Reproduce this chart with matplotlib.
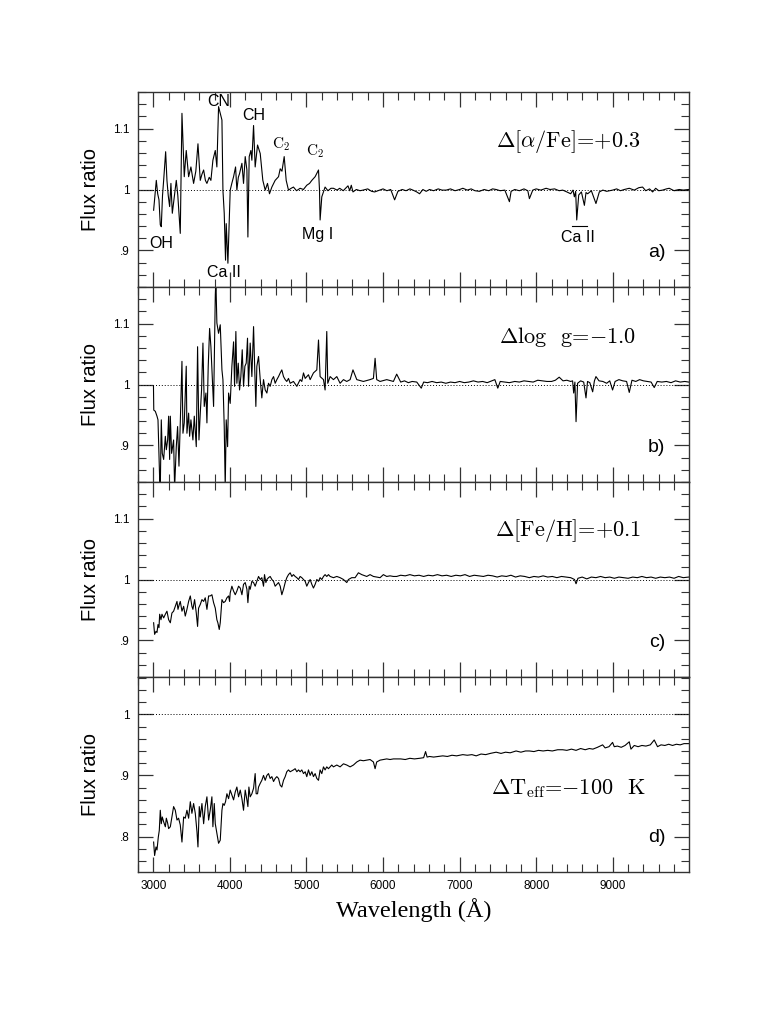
import numpy as np
import matplotlib
matplotlib.use("Agg")
import matplotlib.pyplot as plt
from matplotlib.ticker import FixedLocator, MultipleLocator, FuncFormatter

plt.rcParams['mathtext.fontset'] = 'cm'
plt.rcParams['font.family'] = ['Liberation Sans', 'DejaVu Sans']

# ---- panel a) d[alpha/Fe]=+0.3 ----
wa = [3004, 3039, 3057, 3074, 3091, 3104, 3120, 3135, 3161, 3178, 3195, 3213, 3230, 3248, 3274, 3300,
      3320, 3352, 3374, 3404, 3430, 3461, 3491, 3526, 3555, 3583, 3613, 3635, 3657, 3680, 3700, 3730,
      3752, 3778, 3809, 3830, 3852, 3874, 3896, 3909, 3926, 3943, 3952, 3974, 3987, 4004, 4025, 4048,
      4074, 4091, 4110, 4126, 4157, 4178, 4200, 4222, 4235, 4252, 4274, 4287, 4309, 4330, 4361, 4396,
      4430, 4461, 4491, 4517, 4548, 4591, 4635, 4657, 4680, 4709, 4735, 4765, 4800, 4830, 4870, 4917,
      4960, 5004, 5040, 5070, 5113, 5157, 5170, 5178, 5200, 5243, 5280, 5320, 5352,
      5400, 5433, 5480, 5520, 5542, 5565, 5585, 5607, 5651, 5700, 5738, 5800, 5850, 5890, 5955, 6000,
      6050, 6100, 6151, 6194, 6250, 6300, 6350, 6390, 6440, 6477, 6520, 6563, 6607, 6660, 6720, 6770,
      6825, 6880, 6940, 7000, 7042, 7100, 7150, 7200, 7259, 7320, 7380, 7430, 7477, 7530, 7590, 7650,
      7672, 7720, 7780, 7840, 7890, 7911, 7955, 8000, 8060, 8129, 8180, 8240, 8300, 8346, 8400, 8450,
      8480, 8498, 8515, 8529, 8555, 8590, 8629, 8650, 8672, 8720, 8780, 8824, 8870, 8920, 8998, 9050,
      9100, 9150, 9215, 9280, 9340, 9389, 9430, 9480, 9520, 9560, 9600, 9650, 9700, 9737, 9800, 9867,
      9920, 9990]
fa = [0.966, 1.015, 0.993, 0.983, 0.942, 0.939, 0.990, 1.015, 1.062, 1.015, 0.990, 0.972, 1.010, 0.961, 0.988, 1.015,
      0.990, 0.928, 1.125, 1.021, 1.064, 1.021, 1.037, 1.010, 1.030, 1.075, 1.015, 1.025, 1.032, 1.015, 1.010, 1.020,
      1.015, 1.048, 1.064, 1.037, 1.136, 1.125, 1.114, 0.999, 0.961, 0.884, 0.944, 0.879, 0.933, 0.999, 1.010, 1.021,
      1.037, 0.999, 1.020, 1.026, 1.043, 1.010, 1.054, 1.032, 0.922, 1.054, 1.064, 1.048, 1.105, 1.037, 1.073, 1.059,
      1.015, 0.999, 1.010, 0.993, 1.004, 1.015, 1.021, 1.034, 1.030, 1.054, 1.015, 0.999, 1.002, 1.004, 0.998, 1.002,
      1.000, 1.007, 1.010, 1.015, 1.021, 1.032, 0.999, 0.950, 0.988, 1.004, 0.998, 1.002, 1.002,
      0.999, 1.002, 0.998, 1.003, 1.006, 0.998, 1.007, 0.996, 1.000, 0.998, 0.999, 1.001, 0.997, 0.996, 0.999, 1.001,
      0.998, 1.000, 0.983, 0.997, 1.000, 0.998, 1.001, 0.999, 0.996, 0.993, 1.000, 0.997, 1.000, 0.998, 1.001, 0.999,
      0.999, 1.001, 0.998, 1.000, 1.002, 0.999, 1.001, 0.998, 0.997, 1.000, 0.998, 1.001, 1.000, 0.998, 0.999, 0.980,
      0.997, 1.000, 0.998, 1.001, 0.998, 0.985, 0.999, 1.001, 0.999, 1.002, 1.000, 1.001, 0.998, 0.999, 0.996, 0.993,
      0.999, 0.988, 0.997, 0.950, 0.991, 0.996, 0.974, 0.995, 0.993, 0.998, 0.977, 0.996, 0.999, 0.997, 0.999, 1.001,
      0.998, 1.000, 1.002, 0.999, 1.003, 1.004, 0.998, 1.001, 0.996, 1.002, 0.998, 0.999, 1.001, 1.002, 0.998, 1.000,
      0.999, 1.000]

# ---- panel b) dlog g=-1.0 ----
wb = [3002, 3006, 3026, 3048, 3061, 3083, 3091, 3104, 3117, 3135, 3157, 3170, 3187, 3200, 3213, 3222,
      3239, 3265, 3278, 3300, 3317, 3335, 3352, 3374, 3387, 3404, 3430, 3439, 3461, 3474, 3491, 3517,
      3535, 3561, 3578, 3596, 3613, 3630, 3648, 3665, 3687, 3700, 3717, 3735, 3752, 3770, 3787, 3809,
      3817, 3830, 3852, 3874, 3896, 3909, 3926, 3939, 3952, 3970, 3983, 4004, 4026, 4048, 4061, 4078,
      4091, 4109, 4126, 4143, 4161, 4178, 4196, 4213, 4230, 4243, 4265, 4287, 4309, 4322, 4339, 4352,
      4374, 4396, 4417, 4439, 4461, 4483, 4504, 4526, 4548, 4570, 4591, 4613, 4635, 4657, 4678, 4700,
      4722, 4743, 4765, 4787, 4830, 4874, 4917, 4939, 4961, 4983, 5004, 5026, 5048, 5091, 5135, 5157,
      5178, 5222, 5243, 5265, 5278, 5309, 5352, 5396, 5439, 5483, 5526, 5570, 5607, 5657, 5743, 5830,
      5874, 5896, 5917, 5961, 6048, 6135, 6178,
      6230, 6280, 6330, 6380, 6440, 6499, 6530, 6580, 6640, 6700, 6760, 6820, 6880, 6940, 7000, 7060,
      7120, 7180, 7240, 7300, 7360, 7420, 7460, 7498, 7530, 7590, 7650, 7720, 7780, 7840, 7900, 7960,
      8020, 8080, 8140, 8200, 8250, 8300, 8350, 8400, 8450, 8475, 8489, 8505, 8520, 8540, 8580, 8620,
      8650, 8670, 8700, 8737, 8760, 8780, 8820, 8870, 8920, 8960, 8997, 9030, 9080, 9130, 9180, 9215,
      9250, 9300, 9350, 9400, 9450, 9500, 9541, 9580, 9640, 9700, 9760, 9820, 9880, 9940, 9990]
fb = [0.997, 0.958, 0.956, 0.948, 0.942, 0.844, 0.830, 0.942, 0.887, 0.877, 0.915, 0.893, 0.909, 0.948, 0.877, 0.948,
      0.887, 0.909, 0.830, 0.898, 0.931, 0.866, 0.937, 1.038, 0.920, 0.937, 1.030, 0.920, 0.953, 0.915, 0.942, 0.909,
      0.948, 0.898, 1.062, 0.909, 0.953, 0.991, 1.068, 0.964, 0.986, 0.937, 1.030, 1.092, 1.062, 1.013, 0.964, 1.144,
      1.170, 1.101, 1.084, 1.098, 1.024, 1.008, 0.931, 0.830, 0.942, 0.898, 0.986, 0.969, 1.030, 1.070, 0.997, 1.087,
      1.002, 1.035, 0.991, 1.013, 1.057, 0.997, 1.030, 1.035, 1.076, 0.997, 1.068, 1.013, 1.095, 1.035, 0.964, 1.030,
      1.046, 1.008, 0.978, 1.008, 0.991, 0.986, 1.002, 0.997, 1.008, 1.013, 1.002, 1.008, 1.013, 1.019, 1.024, 1.013,
      1.008, 1.005, 1.010, 1.002, 1.005, 0.997, 1.008, 1.005, 1.019, 1.010, 1.013, 1.016, 1.008, 1.019, 1.024, 1.073,
      1.013, 1.008, 0.991, 1.087, 1.002, 1.013, 1.008, 1.013, 1.002, 1.008, 1.005, 1.008, 1.024, 1.008, 1.005, 1.008,
      1.010, 1.043, 1.008, 1.005, 1.008, 1.005, 1.017,
      1.004, 1.006, 1.003, 1.005, 1.004, 0.994, 1.004, 1.003, 1.005, 1.003, 1.004, 1.002, 1.004, 1.003, 1.005, 1.003,
      1.004, 1.006, 1.004, 1.005, 1.003, 1.006, 1.008, 0.994, 1.005, 1.004, 1.003, 1.005, 1.004, 1.006, 1.005, 1.004,
      1.007, 1.006, 1.005, 1.005, 1.007, 1.012, 1.006, 1.007, 1.005, 1.006, 0.986, 1.004, 0.939, 1.002, 1.006, 1.004,
      0.978, 1.005, 1.003, 0.988, 1.006, 1.013, 1.006, 1.005, 1.002, 1.006, 0.991, 1.005, 1.008, 1.006, 1.005, 0.987,
      1.007, 1.005, 1.008, 1.006, 1.005, 1.004, 0.995, 1.005, 1.004, 1.005, 1.003, 1.006, 1.004, 1.005, 1.004]

# ---- panel c) d[Fe/H]=+0.1 ----
wc = [3004, 3017, 3035, 3048, 3061, 3074, 3083, 3100, 3113, 3135, 3157, 3178, 3200, 3222, 3243, 3265,
      3287, 3309, 3322, 3339, 3352, 3374, 3396, 3417, 3439, 3461, 3483, 3504, 3517, 3539, 3561, 3578,
      3591, 3613, 3635, 3657, 3678, 3700, 3722, 3743, 3765, 3787, 3809, 3830, 3843, 3861, 3874, 3887,
      3896, 3917, 3939, 3961, 3983, 3996, 4004, 4026, 4048, 4070, 4091, 4113, 4135, 4157, 4178, 4200,
      4222, 4235, 4252, 4265, 4287, 4309, 4330, 4352, 4374, 4396, 4417, 4439, 4452, 4470, 4483, 4504,
      4526, 4548, 4570, 4591, 4613, 4635, 4657, 4678, 4700, 4722, 4743, 4765, 4787, 4809, 4830, 4852,
      4874, 4896, 4917, 4939, 4961, 4983, 5004, 5026, 5048, 5070, 5091, 5113, 5135, 5157, 5178, 5200,
      5222, 5243, 5265, 5287, 5309, 5352, 5396, 5439, 5483, 5526, 5548, 5591, 5635, 5678, 5722, 5787,
      5830, 5874, 5917, 5961, 6004, 6048, 6091, 6135, 6178,
      6230, 6290, 6350, 6410, 6470, 6530, 6590, 6650, 6710, 6770, 6830, 6890, 6950, 7010, 7070, 7130,
      7190, 7250, 7310, 7370, 7430, 7490, 7550, 7610, 7670, 7730, 7790, 7850, 7910, 7970, 8030, 8090,
      8150, 8210, 8270, 8330, 8390, 8450, 8500, 8520, 8545, 8600, 8660, 8720, 8780, 8840, 8900, 8960,
      9020, 9080, 9140, 9200, 9260, 9320, 9380, 9440, 9500, 9560, 9620, 9680, 9740, 9800, 9860, 9920,
      9990]
fc = [0.929, 0.910, 0.915, 0.913, 0.926, 0.921, 0.943, 0.934, 0.943, 0.937, 0.943, 0.948, 0.934, 0.929, 0.945, 0.948,
      0.956, 0.964, 0.951, 0.959, 0.964, 0.948, 0.956, 0.940, 0.951, 0.964, 0.973, 0.956, 0.951, 0.967, 0.945, 0.923,
      0.953, 0.959, 0.967, 0.964, 0.970, 0.951, 0.973, 0.973, 0.975, 0.962, 0.953, 0.934, 0.929, 0.918, 0.929, 0.951,
      0.967, 0.962, 0.964, 0.970, 0.973, 0.964, 0.978, 0.989, 0.981, 0.975, 0.981, 0.989, 0.986, 0.975, 0.992, 0.995,
      0.984, 0.962, 0.989, 0.984, 0.997, 0.995, 0.989, 0.997, 1.005, 1.000, 1.003, 0.989, 1.008, 0.995, 1.000, 1.003,
      1.005, 1.000, 0.997, 0.989, 0.992, 0.995, 0.989, 0.975, 0.984, 0.995, 1.003, 1.008, 1.011, 1.005, 1.008, 1.005,
      1.003, 1.000, 1.005, 1.003, 1.000, 0.997, 0.989, 0.995, 1.000, 0.992, 0.986, 0.992, 1.000, 0.997, 1.003, 1.000,
      1.005, 1.008, 1.005, 1.008, 1.005, 1.003, 1.005, 1.003, 1.000, 0.995, 1.000, 1.003, 1.003, 1.011, 1.008, 1.005,
      1.008, 1.005, 1.004, 1.003, 1.008, 1.005, 1.006, 1.005, 1.005,
      1.007, 1.006, 1.008, 1.006, 1.007, 1.005, 1.007, 1.006, 1.008, 1.006, 1.007, 1.005, 1.007, 1.006, 1.008, 1.005,
      1.007, 1.006, 1.005, 1.007, 1.006, 1.004, 1.006, 1.005, 1.007, 1.004, 1.006, 1.005, 1.003, 1.005, 1.004, 1.006,
      1.004, 1.005, 1.003, 1.005, 1.004, 1.003, 1.000, 0.993, 1.002, 1.004, 1.001, 1.004, 1.003, 1.005, 1.003, 1.004,
      1.002, 1.004, 1.003, 1.002, 1.004, 1.003, 1.005, 1.003, 1.004, 1.002, 1.004, 1.003, 1.004, 1.002, 1.005, 1.003,
      1.004]

# ---- panel d) dTeff=-100 K ----
wd = [3004, 3017, 3035, 3048, 3065, 3078, 3091, 3104, 3117, 3135, 3157, 3170, 3187, 3200, 3222, 3243,
      3265, 3287, 3309, 3330, 3352, 3374, 3396, 3417, 3439, 3461, 3483, 3504, 3526, 3548, 3570, 3583,
      3600, 3613, 3635, 3657, 3678, 3700, 3722, 3743, 3765, 3778, 3796, 3809, 3830, 3852, 3874, 3896,
      3909, 3926, 3943, 3961, 3983, 4004, 4026, 4048, 4070, 4091, 4113, 4135, 4157, 4178, 4200, 4222,
      4235, 4248, 4265, 4287, 4309, 4330, 4343, 4361, 4374, 4396, 4417, 4439, 4461, 4483, 4504, 4526,
      4548, 4570, 4591, 4613, 4635, 4657, 4678, 4700, 4722, 4743, 4765, 4787, 4830, 4852, 4874, 4896,
      4917, 4939, 4961, 4983, 5004, 5026, 5048, 5070, 5091, 5113, 5135, 5157, 5178, 5200, 5222, 5243,
      5265, 5287, 5309, 5330, 5352, 5396, 5439, 5483, 5526, 5570, 5613, 5657, 5700, 5743, 5787, 5830,
      5874, 5896, 5917, 5961, 6004, 6048, 6091, 6135, 6178,
      6230, 6290, 6350, 6410, 6477, 6530, 6555, 6575, 6607, 6660, 6720, 6780, 6840, 6900, 6960, 7041,
      7100, 7160, 7216, 7280, 7340, 7400, 7477, 7540, 7600, 7660, 7737, 7800, 7860, 7911, 7970, 8030,
      8090, 8150, 8210, 8280, 8345, 8400, 8460, 8520, 8580, 8640, 8693, 8740, 8800, 8867, 8900, 8950,
      8997, 9019, 9060, 9110, 9160, 9215, 9237, 9280, 9330, 9380, 9432, 9490, 9541, 9584, 9630, 9680,
      9730, 9780, 9830, 9880, 9930, 9990]
fd = [0.791, 0.769, 0.783, 0.778, 0.799, 0.810, 0.843, 0.821, 0.832, 0.824, 0.816, 0.830, 0.822, 0.813, 0.816, 0.832,
      0.849, 0.843, 0.827, 0.830, 0.819, 0.791, 0.832, 0.830, 0.843, 0.830, 0.857, 0.838, 0.854, 0.838, 0.808, 0.783,
      0.849, 0.832, 0.854, 0.821, 0.849, 0.865, 0.827, 0.843, 0.865, 0.816, 0.854, 0.821, 0.805, 0.789, 0.794, 0.843,
      0.854, 0.851, 0.857, 0.870, 0.862, 0.876, 0.868, 0.860, 0.873, 0.881, 0.865, 0.876, 0.862, 0.843, 0.876, 0.860,
      0.849, 0.881, 0.865, 0.870, 0.879, 0.903, 0.870, 0.870, 0.881, 0.887, 0.892, 0.900, 0.892, 0.900, 0.903, 0.895,
      0.898, 0.890, 0.895, 0.898, 0.895, 0.884, 0.881, 0.892, 0.898, 0.906, 0.909, 0.906, 0.909, 0.911, 0.906, 0.909,
      0.906, 0.909, 0.903, 0.906, 0.898, 0.909, 0.900, 0.906, 0.898, 0.903, 0.895, 0.892, 0.909, 0.903, 0.914, 0.909,
      0.914, 0.911, 0.914, 0.917, 0.914, 0.917, 0.914, 0.919, 0.917, 0.914, 0.917, 0.922, 0.925, 0.924, 0.925, 0.926,
      0.922, 0.911, 0.922, 0.925, 0.926, 0.927, 0.926, 0.927, 0.927,
      0.927, 0.926, 0.928, 0.927, 0.928, 0.929, 0.939, 0.930, 0.931, 0.930, 0.931, 0.932, 0.931, 0.933, 0.932, 0.934,
      0.933, 0.934, 0.932, 0.935, 0.934, 0.936, 0.938, 0.936, 0.938, 0.937, 0.940, 0.938, 0.940, 0.940, 0.939, 0.941,
      0.940, 0.941, 0.940, 0.942, 0.942, 0.941, 0.943, 0.941, 0.944, 0.942, 0.944, 0.943, 0.946, 0.950, 0.945, 0.947,
      0.954, 0.947, 0.948, 0.946, 0.949, 0.955, 0.943, 0.949, 0.947, 0.949, 0.948, 0.950, 0.958, 0.947, 0.950, 0.949,
      0.951, 0.949, 0.951, 0.950, 0.952, 0.952]

waves = [wa, wb, wc, wd]
fluxes = [fa, fb, fc, fd]
letters = ["a)", "b)", "c)", "d)"]
deltas = [r"$\Delta[\alpha/$Fe$]$=+0.3",
          r"$\Delta$log  g=$-$1.0",
          r"$\Delta[$Fe/H$]$=+0.1",
          r"$\Delta$T$_{\rm eff}$=$-$100  K"]
delta_y = [0.745, 0.745, 0.75, 0.43]
ylims = [(0.84, 1.16), (0.84, 1.16), (0.84, 1.16), (0.742, 1.061)]
yticks = [[0.9, 1.0, 1.1], [0.9, 1.0, 1.1], [0.9, 1.0, 1.1], [0.8, 0.9, 1.0]]

# line identifications in panel a
ids_sans = [("CN", 3856, 1.145), ("CH", 4312, 1.122), ("OH", 3109, 0.911),
            ("Ca II", 3925, 0.863), ("Mg I", 5147, 0.926), ("Ca II", 8540, 0.922)]
ids_c2 = [(4673, 1.075), (5108, 1.063)]
ca_bar_x = [8470, 8660]
ca_bar_y = 0.940


def fmt(v, pos):
    s = f"{v:.10g}"
    return s[1:] if s.startswith("0.") else s


fig = plt.figure(figsize=(7.81, 10.11), dpi=100)
left, width = 138 / 781, 551 / 781
h = 195 / 1011
bottom0 = 1 - 872 / 1011
axes = []
for k in range(4):
    ax = fig.add_axes([left, bottom0 + (3 - k) * h, width, h])
    axes.append(ax)
    ax.plot(waves[k], fluxes[k], color="black", lw=0.8)
    ax.axhline(1.0, color="black", lw=0.7, ls=(0, (1, 2)))
    ax.set_xlim(2800, 9995)
    ax.set_ylim(*ylims[k])
    ax.xaxis.set_major_locator(MultipleLocator(1000))
    ax.xaxis.set_minor_locator(MultipleLocator(200))
    ax.yaxis.set_major_locator(FixedLocator(yticks[k]))
    ax.yaxis.set_minor_locator(MultipleLocator(0.02))
    ax.yaxis.set_major_formatter(FuncFormatter(fmt))
    ax.tick_params(which="both", direction="in", top=True, right=True, labelsize=8.5, color="#333333")
    ax.tick_params(which="major", length=11, width=0.9, pad=6)
    ax.tick_params(which="minor", length=5.5, width=0.8)
    for s in ax.spines.values():
        s.set_linewidth(1.0)
        s.set_color("#333333")
    ax.set_ylabel("Flux ratio", fontsize=14.5)
    ax.yaxis.set_label_coords(-0.069, 0.5)
    if k < 3:
        ax.tick_params(labelbottom=False)
    ax.text(0.957, 0.175, letters[k], transform=ax.transAxes, ha="right", va="center", fontsize=14)
    ax.text(0.78, delta_y[k], deltas[k], transform=ax.transAxes, ha="center", va="center",
            fontsize=16, family=["cmr10", "DejaVu Serif"])

axa = axes[0]
for lab, x, y in ids_sans:
    axa.text(x, y, lab, ha="center", va="center", fontsize=11.5)
for x, y in ids_c2:
    axa.text(x, y, r"$\mathrm{C}_2$", ha="center", va="center", fontsize=11)
axa.plot(ca_bar_x, [ca_bar_y, ca_bar_y], color="black", lw=0.8)

axes[3].set_xlabel("Wavelength (Å)", fontsize=17.5, family=["Liberation Serif", "DejaVu Serif"], labelpad=4)

fig.savefig("out.png", dpi=100)
